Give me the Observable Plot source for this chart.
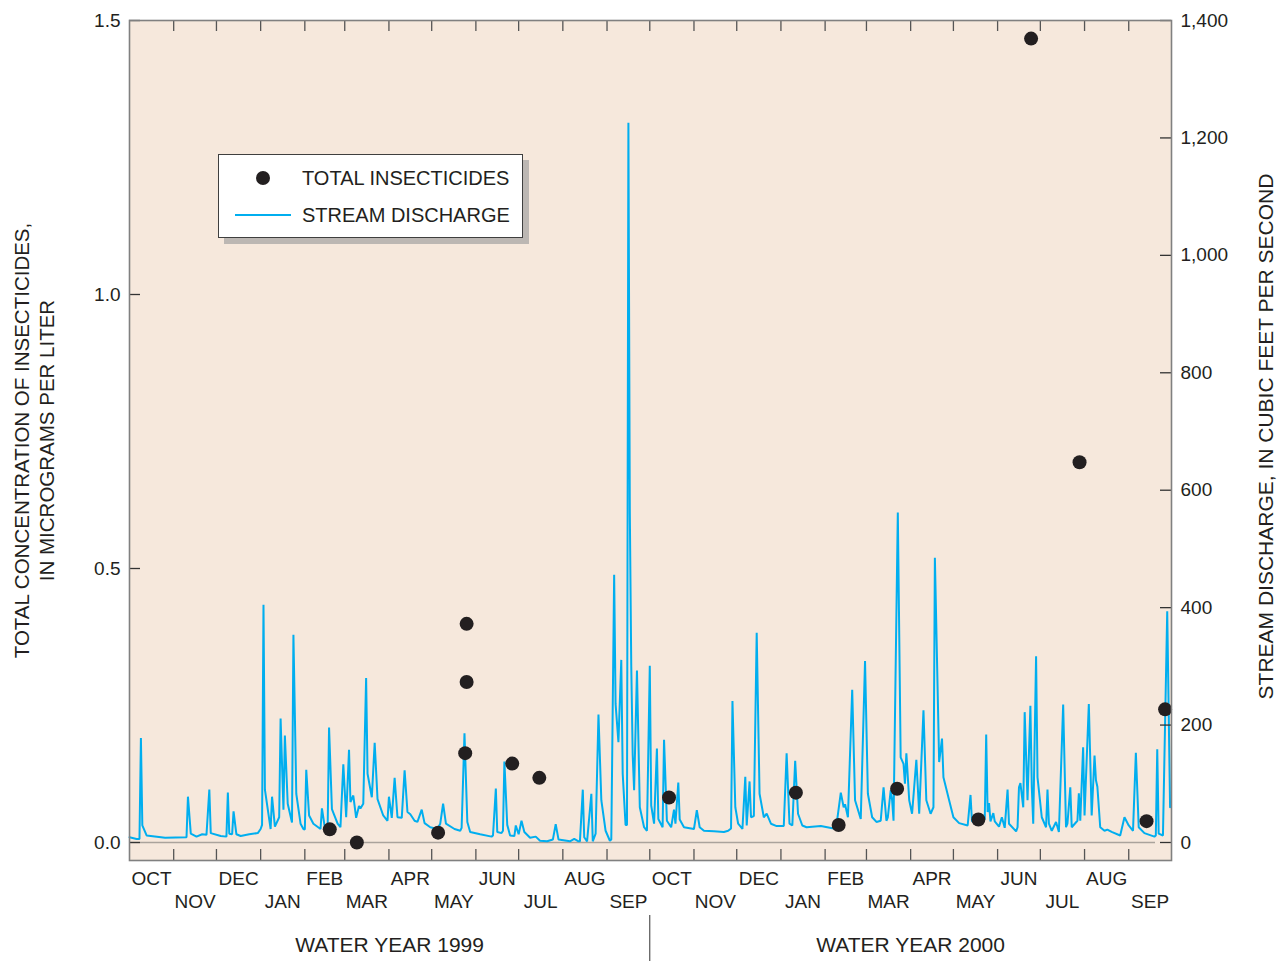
<!DOCTYPE html>
<html>
<head>
<meta charset="utf-8">
<script src="https://cdn.jsdelivr.net/npm/d3@7"></script>
<script src="https://cdn.jsdelivr.net/npm/@observablehq/plot@0.6"></script>
<style>
  body { margin: 0; background: #ffffff; font-family: "Liberation Sans", Arial, Helvetica, sans-serif; }
  #wrap { position: relative; width: 1288px; height: 961px; }
  #legend { position: absolute; left: 218px; top: 154px; width: 305px; height: 84px; background: #ffffff;
            border: 1px solid #3f3f3f; box-sizing: border-box; box-shadow: 6px 6px 0 #bcb7b3; }
  #legend svg { position: absolute; left: 0; top: 0; }
</style>
</head>
<body>
<div id="wrap"></div>
<script>
// ---------- data ----------
const waterYearStart = "1998-10-01";
const monthNames = ["OCT","NOV","DEC","JAN","FEB","MAR","APR","MAY","JUN","JUL","AUG","SEP"];
const waterYearLabels = ["WATER YEAR 1999", "WATER YEAR 2000"];
const waterYearStarts = ["1998-10-01", "1999-10-01"];

// total insecticides (micrograms per liter)
const sampleDates = ["1999-02-18","1999-03-09","1999-05-05","1999-05-25","1999-05-25","1999-05-24",
  "1999-06-26","1999-07-15","1999-10-14","2000-01-11","2000-02-10","2000-03-22","2000-05-18",
  "2000-06-24","2000-07-28","2000-09-13","2000-09-26"];
const sampleConc = [0.024, 0.0, 0.018, 0.399, 0.293, 0.163, 0.144, 0.118, 0.082, 0.091, 0.032,
  0.098, 0.042, 1.467, 0.694, 0.039, 0.243];

// stream discharge: day since 1998-10-01, cubic feet per second
const flowDay = [0,5,7,8,9,12,25,40,41,43,47,51,54,56,57,64,68,69,70,72,73,75,78,84,90,92,93,94,95,99,
  100,102,105,106,108,109,111,114,115,117,120,122,123,124,126,129,134,135,137,139,140,142,146,148,150,
  152,154,155,157,159,161,162,164,166,167,170,172,174,178,181,182,184,186,188,191,193,195,197,200,202,
  205,207,211,216,218,220,222,228,232,233,235,237,239,246,254,255,257,258,261,262,263,265,267,270,271,
  273,275,277,281,285,288,293,297,299,301,309,312,315,316,318,319,321,324,325,327,329,331,334,337,338,
  340,341,343,345,346,348,349,350,351,352,353,354,356,358,361,363,365,366,368,370,371,374,375,377,380,
  382,383,385,386,389,396,398,400,403,410,417,420,422,423,425,427,430,432,433,435,436,438,440,442,445,
  447,450,454,459,461,463,465,467,469,472,475,485,494,496,499,501,502,504,507,509,513,516,518,521,524,
  527,529,531,532,534,535,536,539,541,543,544,545,547,549,552,554,557,559,562,564,565,568,570,571,575,
  578,582,588,590,591,593,598,600,601,602,603,604,606,607,610,612,614,616,617,622,623,624,625,627,628,
  630,632,633,634,636,637,640,643,644,645,647,650,652,655,657,658,660,661,665,666,667,669,670,673,675,
  677,678,679,681,684,686,689,695,698,701,704,706,708,712,719,720,721,722,725,728,730];
const flowCfs = [9,6,6,178,29,12,8,9,78,15,10,14,13,90,16,11,10,85,15,14,53,14,11,14,16,23,30,405,90,23,
  78,27,43,211,56,182,66,34,354,83,32,23,22,124,46,32,23,58,26,24,196,57,32,26,133,
  43,158,69,80,42,62,58,66,280,117,77,170,74,46,37,78,42,110,43,42,123,52,48,37,35,
  56,33,26,23,32,66,32,23,20,25,186,35,18,14,10,12,92,18,16,20,138,30,12,11,29,
  14,37,18,8,10,3,2,5,31,5,2,6,2,2,90,9,2,83,2,15,218,72,20,3,5,
  456,236,171,311,117,30,30,1226,560,300,150,89,293,60,26,20,301,63,32,160,40,26,175,37,26,
  56,32,102,39,26,23,55,26,20,19,18,20,24,241,60,32,23,112,29,104,43,45,357,83,43,
  49,32,28,28,152,32,29,139,49,29,26,28,24,30,85,60,65,43,260,72,40,309,83,43,35,
  37,94,37,43,89,72,37,562,145,134,100,152,72,49,141,49,225,72,49,60,485,137,177,111,72,
  43,33,29,81,37,32,37,40,184,52,67,36,50,36,27,43,25,90,32,19,26,94,101,60,222,
  72,233,94,32,317,111,43,26,90,32,20,35,18,235,26,32,94,26,37,84,37,162,46,236,46,
  148,106,95,26,20,22,18,12,43,29,20,153,26,16,10,12,159,15,12,394,60];

const concTicks = [0, 0.5, 1.0, 1.5];
const cfsTicks = [0, 200, 400, 600, 800, 1000, 1200, 1400];

// ---------- build tables ----------
const t0 = new Date(waterYearStart + "T00:00:00Z");
const t1 = d3.utcYear.offset(t0, 2);
const k = 1.5 / 1400; // discharge -> concentration axis units (0 aligned, 1400 cfs = 1.5)

const flow = flowDay.map((d, i) => ({date: d3.utcDay.offset(t0, d), cfs: flowCfs[i]}));
const samples = sampleDates.map((d, i) => ({date: new Date(d + "T12:00:00Z"), conc: sampleConc[i]}));
const months = d3.range(24).map(i => {
  const s = d3.utcMonth.offset(t0, i), e = d3.utcMonth.offset(t0, i + 1);
  return {start: s, mid: new Date((+s + +e) / 2), label: monthNames[i % 12], row: i % 2};
});
const monthBounds = months.slice(1).map(m => m.start);
const wy = waterYearStarts.map((s, i) => {
  const a = new Date(s + "T00:00:00Z"), b = d3.utcYear.offset(a, 1);
  return {mid: new Date((+a + +b) / 2), label: waterYearLabels[i]};
});
const divider = [new Date(waterYearStarts[1] + "T00:00:00Z")];

const ink = "#231f20";
const W = 1288, H = 961, ML = 129, MR = 117, MT = 20, MB = 101;
const PW = W - ML - MR, PH = H - MT - MB;

const chart = Plot.plot({
  width: W, height: H,
  marginLeft: ML, marginRight: MR, marginTop: MT, marginBottom: MB,
  style: {fontFamily: '"Liberation Sans", Arial, Helvetica, sans-serif', fontSize: "19px", color: ink, background: "transparent"},
  x: {type: "utc", domain: [t0, t1], axis: null},
  y: {domain: [-0.03285, 1.5]},
  marks: [
    Plot.frame({fill: "#f6e8dc"}),
    Plot.ruleY([0], {stroke: "#aaa39c", strokeWidth: 1.5, insetRight: 16}),
    Plot.line(flow, {x: "date", y: d => d.cfs * k, stroke: "#00aeef", strokeWidth: 2, strokeLinejoin: "miter"}),
    Plot.dot(samples, {x: "date", y: "conc", r: 7, fill: ink, stroke: "none"}),
    // month ticks (inward, bottom and top)
    Plot.ruleX(monthBounds, {stroke: "#555", strokeWidth: 1.3, insetTop: PH - 11}),
    Plot.ruleX(monthBounds, {stroke: "#555", strokeWidth: 1.3, insetBottom: PH - 11}),
    // y ticks (inward)
    Plot.ruleY(concTicks, {stroke: "#333", strokeWidth: 1.3, insetRight: PW - 11}),
    Plot.ruleY(cfsTicks.map(v => v * k), {stroke: "#333", strokeWidth: 1.3, insetLeft: PW - 11}),
    Plot.frame({stroke: "#808080", strokeWidth: 1.6}),
    // axis labels
    Plot.axisY(concTicks, {anchor: "left", tickSize: 0, tickPadding: 9, tickFormat: d3.format(".1f"), label: null, fill: ink}),
    Plot.axisY(cfsTicks.map(v => v * k), {anchor: "right", tickSize: 0, tickPadding: 9,
      tickFormat: d => d3.format(",")(Math.round(d / k)), label: null, fill: ink}),
    // month labels (alternating rows)
    Plot.text(months, {filter: d => d.row === 0, x: "mid", text: "label", frameAnchor: "bottom", lineAnchor: "middle", dy: 18, fill: ink}),
    Plot.text(months, {filter: d => d.row === 1, x: "mid", text: "label", frameAnchor: "bottom", lineAnchor: "middle", dy: 41, fill: ink}),
    // water year labels and divider
    Plot.text(wy, {x: "mid", text: "label", frameAnchor: "bottom", lineAnchor: "middle", dy: 85, fontSize: 21, fill: ink}),
    Plot.ruleX(divider, {stroke: "#333", strokeWidth: 1, insetTop: PH + 55, insetBottom: -MB}),
    // axis titles
    Plot.text(["TOTAL CONCENTRATION OF INSECTICIDES,"], {text: d => d, frameAnchor: "left", textAnchor: "middle", lineAnchor: "middle", rotate: -90, dx: -107, fontSize: 20.5, fill: ink}),
    Plot.text(["IN MICROGRAMS PER LITER"], {text: d => d, frameAnchor: "left", textAnchor: "middle", lineAnchor: "middle", rotate: -90, dx: -82, fontSize: 20.5, fill: ink}),
    Plot.text(["STREAM DISCHARGE, IN CUBIC FEET PER SECOND"], {text: d => d, frameAnchor: "right", textAnchor: "middle", lineAnchor: "middle", rotate: -90, dx: 95, dy: -4, fontSize: 21, fill: ink})
  ]
});

const wrap = document.getElementById("wrap");
wrap.appendChild(chart);

// legend (boxed, inside the plot area)
const legend = document.createElement("div");
legend.id = "legend";
legend.innerHTML = `<svg width="305" height="84" xmlns="http://www.w3.org/2000/svg"
  style="font-family:'Liberation Sans',Arial,Helvetica,sans-serif;font-size:20px;fill:${ink}">
  <circle cx="44" cy="23" r="7" fill="${ink}"></circle>
  <text x="83" y="23" dy="0.35em">TOTAL INSECTICIDES</text>
  <line x1="16" x2="72" y1="60" y2="60" stroke="#00aeef" stroke-width="1.8"></line>
  <text x="83" y="60" dy="0.35em">STREAM DISCHARGE</text>
</svg>`;
wrap.appendChild(legend);
</script>
</body>
</html>
